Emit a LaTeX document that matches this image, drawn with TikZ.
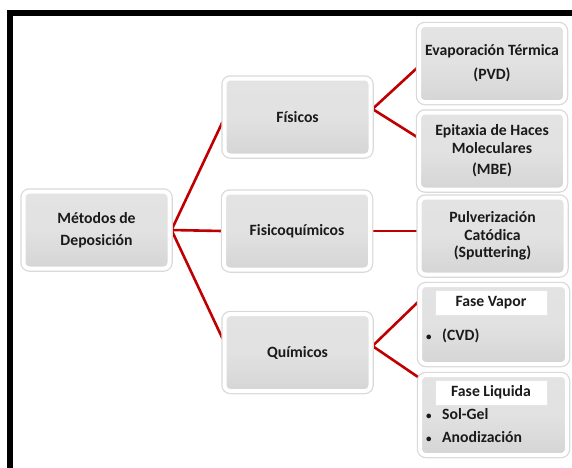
\documentclass[tikz,border=0pt]{standalone}
\usepackage{fontspec}
\setmainfont{Carlito}
\usetikzlibrary{backgrounds,calc}
\definecolor{linkred}{HTML}{C00000}
\definecolor{boxtop}{HTML}{E4E3E4}
\definecolor{boxbot}{HTML}{D6D5D6}
\definecolor{txt}{HTML}{1A1A1A}
\tikzset{
  box/.style={rounded corners=6pt, minimum width=146pt, minimum height=77pt,
    top color=boxtop, bottom color=boxbot, middle color=boxtop!90!boxbot, draw=white, line width=4pt,
    preaction={draw=black!15, line width=6.5pt},
    font=\bfseries\fontsize{15.7}{17.5}\selectfont, text=txt, align=center, inner sep=2pt},
  head/.style={fill=white, draw=black!10, line width=0.6pt, minimum width=112pt, minimum height=25pt,
    font=\bfseries\fontsize{15.7}{17}\selectfont, text=txt, inner sep=0pt},
  item/.style={anchor=west, font=\bfseries\fontsize{15.7}{17}\selectfont, text=txt, inner sep=0pt},
  link/.style={draw=linkred, line width=2.6pt}
}
\newcommand{\blt}{\makebox[16pt][l]{\fontsize{11}{11}\selectfont•}}
\begin{document}
\begin{tikzpicture}[x=1pt,y=-1pt]
\useasboundingbox (0,0) rectangle (572,467);
\draw[line width=6pt, line join=miter] (10,475) -- (10,13) -- (580,13);
\node[box] (m) at (96.5,230) {Métodos de\\[5pt]Deposición};
\node[box] (f) at (297.5,117) {Físicos};
\node[box] (fq) at (297,231) {Fisicoquímicos};
\node[box] (q) at (297.5,352.5) {Químicos};
\node[box] (evap) at (492,63.5) {Evaporación Térmica\\[6.5pt](PVD)};
\node[box] (epi) at (492,151) {Epitaxia de Haces\\Moleculares\\[4pt](MBE)};
\node[box] (pulv) at (492.5,236) {Pulverización\\Catódica\\(Sputtering)};
\node[box, minimum width=147pt, minimum height=79pt] (fv) at (493.5,324.5) {};
\node[box, minimum width=147pt, minimum height=80pt] (fl) at (493.5,415) {};
\node[head] (fvh) at (491,302.5) {Fase Vapor};
\node[head] (flh) at (491,392.5) {Fase Liquida};
\node[item] (cvd) at (426,336) {\blt(CVD)};
\node[item] (sg) at (426,414) {\blt Sol-Gel};
\node[item] (an) at (426,437) {\blt Anodización};
\begin{scope}[on background layer]
\coordinate (mo) at (m.east);
\draw[link] (mo) -- ([yshift=-5pt]f.west);
\draw[link] (mo) -- (fq.west);
\draw[link] (mo) -- ([yshift=14pt]q.west);
\coordinate (fo) at ([yshift=8pt]f.east);
\draw[link] (fo) -- ([yshift=-4.5pt]evap.west);
\draw[link] (fo) -- ([yshift=14pt]epi.west);
\draw[link] (fq.east) -- (pulv.west |- fq.east);
\coordinate (qo) at ([yshift=6.5pt]q.east);
\draw[link] (qo) -- ([yshift=22.5pt]fv.west);
\draw[link] (qo) -- ([yshift=38pt]fl.west);
\end{scope}
\end{tikzpicture}
\end{document}
